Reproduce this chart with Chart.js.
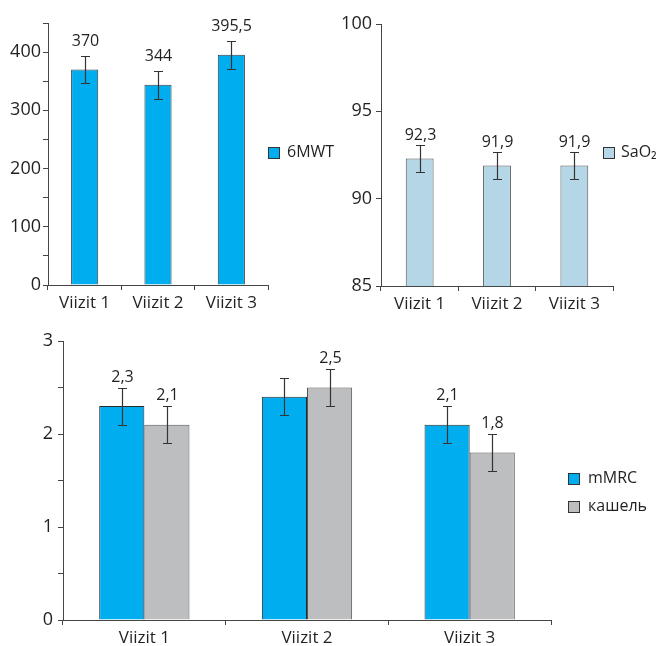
<!DOCTYPE html>
<html>
<head>
<meta charset="utf-8">
<script src="https://cdn.jsdelivr.net/npm/chart.js@4.4.1/dist/chart.umd.min.js"></script>
<style>
  html, body { margin: 0; padding: 0; background: #fff; }
  #wrap { position: relative; width: 662px; height: 646px; }
  canvas { position: absolute; }
</style>
</head>
<body>
<div id="wrap">
  <canvas id="walk" width="340" height="310" style="left:0;top:0"></canvas>
  <canvas id="sat" width="332" height="310" style="left:330px;top:0"></canvas>
  <canvas id="score" width="662" height="326" style="left:0;top:320px"></canvas>
</div>
<script>
// Visits shared by all three panels
const visits = ['Viizit 1', 'Viizit 2', 'Viizit 3'];

// 6-minute walk test distance
const walkValues = [370, 344, 395.5];
const walkErrors = [23, 24, 24];
const walkTickLabels = [0, 100, 200, 300, 400];

// Oxygen saturation
const satValues = [92.3, 91.9, 91.9];
const satErrors = [0.8, 0.8, 0.8];
const satTickLabels = [85, 90, 95, 100];

// mMRC dyspnoea score and cough score
const mmrcValues = [2.3, 2.4, 2.1];
const mmrcErrors = [0.2, 0.2, 0.2];
const mmrcLabelled = [true, false, true];
const coughValues = [2.1, 2.5, 1.8];
const coughErrors = [0.2, 0.2, 0.2];
const coughLabelled = [true, true, true];
const scoreTickLabels = [0, 1, 2, 3];

const FONT = '"Open Sans", "Noto Sans", sans-serif';
const INK = '#231f20';
const AXIS = '#454545';

const fmt = v => String(v).replace('.', ',');

// Error whiskers plus the value written above each whisker
const whiskerPlugin = {
  id: 'whiskers',
  afterDatasetsDraw(chart, args, opts) {
    const ctx = chart.ctx;
    const y = chart.scales.y;
    chart.data.datasets.forEach((ds, di) => {
      const meta = chart.getDatasetMeta(di);
      meta.data.forEach((bar, i) => {
        const v = ds.data[i];
        const e = ds.errors[i];
        const yHi = Math.round(y.getPixelForValue(v + e)) + 0.5;
        const yLo = Math.round(y.getPixelForValue(v - e)) + 0.5;
        const x = Math.round(bar.x) + 0.5;
        ctx.save();
        ctx.strokeStyle = '#333';
        ctx.lineWidth = 1.2;
        ctx.beginPath();
        ctx.moveTo(x, yHi); ctx.lineTo(x, yLo);
        ctx.moveTo(x - 4.5, yHi); ctx.lineTo(x + 4.5, yHi);
        ctx.moveTo(x - 4.5, yLo); ctx.lineTo(x + 4.5, yLo);
        ctx.stroke();
        if (!ds.labelled || ds.labelled[i]) {
          ctx.fillStyle = INK;
          ctx.font = '16px ' + FONT;
          ctx.textAlign = 'center';
          ctx.textBaseline = 'alphabetic';
          ctx.fillText(fmt(v), x, yHi - opts.gap);
        }
        ctx.restore();
      });
    });
  }
};

// Series key drawn beside the plot
const keyPlugin = {
  id: 'key',
  afterDraw(chart, args, opts) {
    const ctx = chart.ctx;
    ctx.save();
    chart.data.datasets.forEach((ds, i) => {
      const top = opts.y + i * opts.step;
      ctx.fillStyle = ds.backgroundColor;
      ctx.fillRect(opts.x + 0.5, top + 0.5, 11, 11);
      ctx.strokeStyle = '#333';
      ctx.lineWidth = 1;
      ctx.strokeRect(opts.x + 0.5, top + 0.5, 11, 11);
      ctx.fillStyle = INK;
      ctx.font = '16px ' + FONT;
      ctx.textAlign = 'left';
      ctx.textBaseline = 'middle';
      ctx.fillText(ds.label, opts.x + opts.gap, top + 5);
    });
    ctx.restore();
  }
};

function axes(min, max, step, shown, yWidth, xHeight, yPad) {
  return {
    x: {
      z: 1,
      grid: { offset: true, drawOnChartArea: false, tickLength: 5, color: AXIS },
      border: { color: AXIS, width: 1 },
      ticks: { padding: 3, color: INK, font: { family: FONT, size: 17 } },
      afterFit: s => { s.height = xHeight; }
    },
    y: {
      min: min,
      max: max,
      grid: { drawOnChartArea: false, tickLength: 5, color: AXIS },
      border: { color: AXIS, width: 1 },
      ticks: {
        stepSize: step,
        padding: yPad,
        color: INK,
        font: { family: FONT, size: 18 },
        callback: v => shown.includes(v) ? fmt(v) : ''
      },
      afterFit: s => { s.width = yWidth; }
    }
  };
}

function baseOptions(pad, scales, key, gap) {
  return {
    responsive: false,
    animation: false,
    devicePixelRatio: 1,
    layout: { padding: pad },
    scales: scales,
    plugins: {
      legend: { display: false },
      tooltip: { enabled: false },
      key: key,
      whiskers: { gap: gap }
    }
  };
}

new Chart(document.getElementById('walk'), {
  type: 'bar',
  data: {
    labels: visits,
    datasets: [{
      label: '6MWT',
      data: walkValues,
      errors: walkErrors,
      backgroundColor: '#00aeef',
      borderColor: '#3a3a3a',
      borderWidth: 1,
      barPercentage: 0.37,
      categoryPercentage: 1
    }]
  },
  options: baseOptions(
    { left: 0, right: 72, top: 23, bottom: 0 },
    axes(0, 450, 50, walkTickLabels, 48, 25, 2),
    { x: 268, y: 147, step: 28, gap: 19 },
    11
  ),
  plugins: [whiskerPlugin, keyPlugin]
});

new Chart(document.getElementById('sat'), {
  type: 'bar',
  data: {
    labels: visits,
    datasets: [{
      label: 'SaO₂',
      data: satValues,
      errors: satErrors,
      backgroundColor: '#b4d6e6',
      borderColor: '#555',
      borderWidth: 1,
      barPercentage: 0.36,
      categoryPercentage: 1
    }]
  },
  options: baseOptions(
    { left: 0, right: 49, top: 24, bottom: 0 },
    axes(85, 100, 5, satTickLabels, 51, 24, 4),
    { x: 273, y: 147, step: 28, gap: 18 },
    6
  ),
  plugins: [whiskerPlugin, keyPlugin]
});

new Chart(document.getElementById('score'), {
  type: 'bar',
  data: {
    labels: visits,
    datasets: [{
      label: 'mMRC',
      data: mmrcValues,
      errors: mmrcErrors,
      labelled: mmrcLabelled,
      backgroundColor: '#00aeef',
      borderColor: '#2a2a2a',
      borderWidth: 1,
      barPercentage: 1,
      categoryPercentage: 0.555
    }, {
      label: 'кашель',
      data: coughValues,
      errors: coughErrors,
      labelled: coughLabelled,
      backgroundColor: '#bcbec0',
      borderColor: '#555',
      borderWidth: 1,
      barPercentage: 1,
      categoryPercentage: 0.555
    }]
  },
  options: baseOptions(
    { left: 0, right: 111, top: 21, bottom: 0 },
    axes(0, 3, 0.5, scoreTickLabels, 63, 26, 5),
    { x: 568, y: 153, step: 28, gap: 20 },
    7
  ),
  plugins: [whiskerPlugin, keyPlugin]
});
</script>
</body>
</html>
